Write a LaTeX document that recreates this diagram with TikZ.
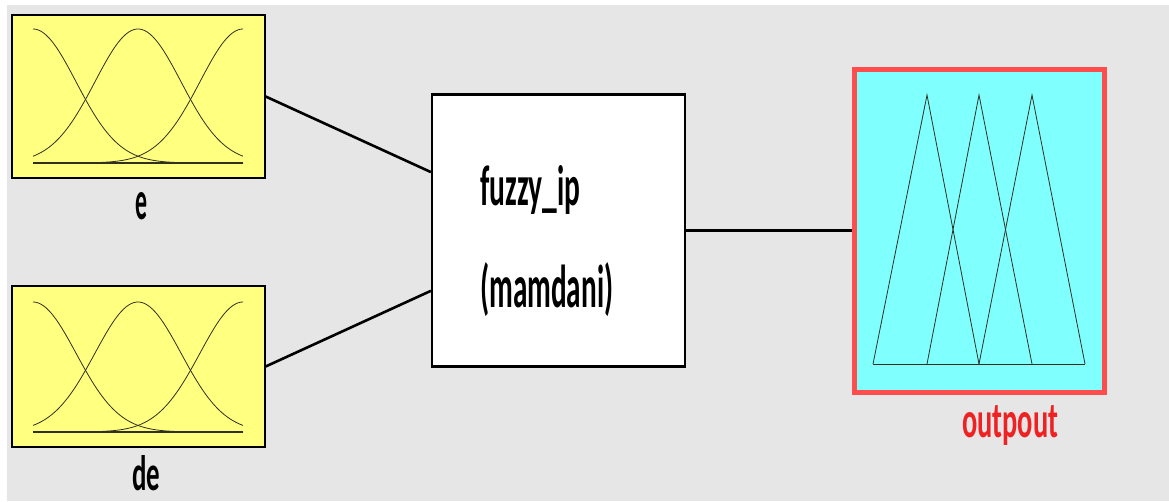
\documentclass[tikz,border=0pt]{standalone}
\usepackage{fontspec}
\usepackage{graphicx}
\setmainfont{Carlito}
\usetikzlibrary{calc}
\definecolor{bggray}{HTML}{E6E6E6}
\definecolor{inyellow}{HTML}{FFFF80}
\definecolor{outcyan}{HTML}{80FFFF}
\definecolor{outred}{HTML}{FF4D4D}
\definecolor{lblred}{HTML}{EE2222}
\definecolor{mfline}{HTML}{303020}
\begin{document}
\begin{tikzpicture}[x=1pt,y=-1pt,
  inbox/.style={draw=black,line width=1.3pt,fill=inyellow,inner sep=0pt,minimum width=253pt},
  fisbox/.style={draw=black,line width=2.2pt,fill=white,inner sep=0pt,minimum width=253pt,minimum height=272pt},
  outbox/.style={draw=outred,line width=5pt,fill=outcyan,inner sep=0pt,minimum width=250pt,minimum height=323pt},
  conn/.style={draw=black,line width=2.6pt},
  mf/.style={draw=mfline,line width=0.8pt},
  lbl/.style={inner sep=0pt,font=\bfseries}]
\useasboundingbox (0,0) rectangle (1169,501);
\fill[white] (0,0) rectangle (1169,501);
\fill[bggray] (7,5) rectangle (1169,501);

% input e
\node[inbox,minimum height=163pt] (e) at (138.5,96.5) {};
\draw[mf] plot[domain=0:210,samples=80,smooth] ({33+\x},{163-134*exp(-0.5*(\x/43)^2)});
\draw[mf] plot[domain=-105:105,samples=80,smooth] ({138+\x},{163-134*exp(-0.5*(\x/43)^2)});
\draw[mf] plot[domain=-210:0,samples=80,smooth] ({243+\x},{163-134*exp(-0.5*(\x/43)^2)});
\draw[mf,line width=1.2pt] (33,163) -- (243,163);
\node[lbl,anchor=base west] (elbl) at (135,219) {\resizebox{12pt}{27pt}{e}};

% input de
\node[inbox,minimum height=161pt] (de) at (138.5,366.5) {};
\draw[mf] plot[domain=0:210,samples=80,smooth] ({33+\x},{432-130*exp(-0.5*(\x/43)^2)});
\draw[mf] plot[domain=-105:105,samples=80,smooth] ({138+\x},{432-130*exp(-0.5*(\x/43)^2)});
\draw[mf] plot[domain=-210:0,samples=80,smooth] ({243+\x},{432-130*exp(-0.5*(\x/43)^2)});
\draw[mf,line width=1.2pt] (33,432) -- (243,432);
\node[lbl,anchor=base west] (delbl) at (132,490) {\resizebox{28pt}{35pt}{de}};

% FIS box
\node[fisbox] (fis) at (558.5,230.5) {};
\node[lbl,anchor=base west] (fisname) at (480,205) {\resizebox{100pt}{40pt}{fuzzy\_ip}};
\node[lbl,anchor=base west] (fistype) at (480,307) {\resizebox{133pt}{45pt}{(mamdani)}};

% output
\node[outbox] (out) at (979.5,231) {};
\draw[mf] (873,364) -- (927,95) -- (979,364);
\draw[mf] (927,364) -- (979,95) -- (1032,364);
\draw[mf] (979,364) -- (1032,95) -- (1085,364);
\draw[mf,line width=1pt] (873,364) -- (1085,364);
\node[lbl,anchor=base west,text=lblred] (outlbl) at (962,437) {\resizebox{96pt}{32pt}{outpout}};

% connectors
\coordinate (fisin1) at ($(fis.north west)!0.287!(fis.south west)$);
\coordinate (fisin2) at ($(fis.north west)!0.72!(fis.south west)$);
\draw[conn] (e.east) -- (fisin1);
\draw[conn] (de.east) -- (fisin2);
\draw[conn] (fis.east) -- (fis.east -| out.west);
\end{tikzpicture}
\end{document}
